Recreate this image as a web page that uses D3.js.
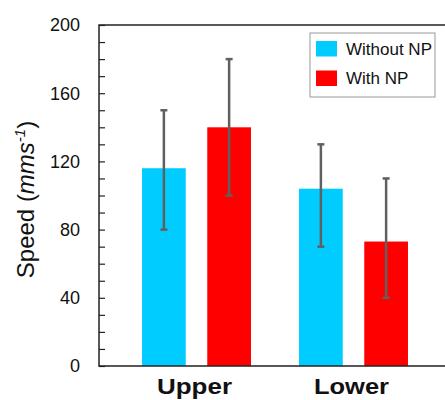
<!DOCTYPE html>
<html>
<head>
<meta charset="utf-8">
<script src="https://cdn.jsdelivr.net/npm/d3@7"></script>
<style>
  body { margin: 0; background: #fff; }
  text { font-family: "Liberation Sans", Arial, sans-serif; }
</style>
</head>
<body>
<div id="chart"></div>
<script>
// data
var categories = ["Upper", "Lower"];
var series = ["Without NP", "With NP"];
var meanWithout = [116, 104];
var meanWith = [140, 73];
var lowWithout = [80, 70];
var highWithout = [150, 130];
var lowWith = [100, 40];
var highWith = [180, 110];
var yTicks = [0, 40, 80, 120, 160, 200];

var colors = ["#00ccff", "#ff0000"];

var rows = [];
categories.forEach(function(c, i){
    rows.push({cat: c, s: series[0], v: meanWithout[i], lo: lowWithout[i], hi: highWithout[i]});
    rows.push({cat: c, s: series[1], v: meanWith[i], lo: lowWith[i], hi: highWith[i]});
});

var width = 445, height = 400;
var margin = {top: 25, right: 0, bottom: 34, left: 99};

var svg = d3.select("#chart").append("svg")
    .attr("width", width)
    .attr("height", height);

var y = d3.scaleLinear().domain([0, 200]).range([height - margin.bottom, margin.top]);

var x0 = d3.scaleBand().domain(categories)
    .range([margin.left, 451])
    .paddingInner(0.306)
    .paddingOuter(0.274);

var x1 = d3.scaleBand().domain(series)
    .range([0, x0.bandwidth()])
    .paddingInner(0.33);

var color = d3.scaleOrdinal().domain(series).range(colors);

// bars
svg.selectAll(".bar")
    .data(rows)
    .enter().append("rect")
    .attr("class", "bar")
    .attr("x", (d) => x0(d.cat) + x1(d.s))
    .attr("y", (d) => y(d.v))
    .attr("width", x1.bandwidth())
    .attr("height", (d) => y(0) - y(d.v))
    .attr("fill", (d) => color(d.s));

// error bars
var err = svg.selectAll(".err")
    .data(rows)
    .enter().append("g")
    .attr("class", "err")
    .attr("stroke", "#606060")
    .attr("stroke-width", 2.5);

err.append("line")
    .attr("x1", (d) => x0(d.cat) + x1(d.s) + x1.bandwidth() / 2)
    .attr("x2", (d) => x0(d.cat) + x1(d.s) + x1.bandwidth() / 2)
    .attr("y1", (d) => y(d.lo))
    .attr("y2", (d) => y(d.hi));

["lo", "hi"].forEach(function(k){
    err.append("line")
        .attr("x1", (d) => x0(d.cat) + x1(d.s) + x1.bandwidth() / 2 - 3.5)
        .attr("x2", (d) => x0(d.cat) + x1(d.s) + x1.bandwidth() / 2 + 3.5)
        .attr("y1", (d) => y(d[k]))
        .attr("y2", (d) => y(d[k]));
});

// y axis, ticks point inward
var yAxis = svg.append("g")
    .attr("transform", "translate(" + margin.left + ",0)")
    .call(d3.axisRight(y).tickValues(d3.range(0, 201, 10)).tickSize(6).tickFormat(""));
yAxis.select(".domain").remove();
yAxis.selectAll(".tick line").attr("stroke", "#222").attr("stroke-width", 1.2);

svg.selectAll(".ylab")
    .data(yTicks)
    .enter().append("text")
    .attr("class", "ylab")
    .attr("x", 80)
    .attr("y", (d) => y(d))
    .attr("dy", "0.35em")
    .attr("text-anchor", "end")
    .attr("font-size", 18)
    .attr("fill", "#111")
    .text((d) => d);

// frame: left, top, bottom
svg.append("path")
    .attr("d", "M" + width + "," + y(200) + "H" + margin.left + "V" + y(0) + "H" + width)
    .attr("fill", "none")
    .attr("stroke", "#222")
    .attr("stroke-width", 1.5);

// x labels
svg.selectAll(".xlab")
    .data(categories)
    .enter().append("text")
    .attr("class", "xlab")
    .attr("x", (d) => x0(d) + x0.bandwidth() / 2 - 2)
    .attr("y", 394)
    .attr("text-anchor", "middle")
    .attr("font-size", 22)
    .attr("font-weight", "bold")
    .attr("textLength", 75)
    .attr("lengthAdjust", "spacingAndGlyphs")
    .attr("fill", "#111")
    .text((d) => d);

// y title
var ttl = svg.append("text")
    .attr("transform", "translate(34," + ((y(0) + y(200)) / 2 + 4) + ") rotate(-90)")
    .attr("text-anchor", "middle")
    .attr("font-size", 24)
    .attr("fill", "#111");
ttl.append("tspan").text("Speed (");
ttl.append("tspan").attr("font-style", "italic").text("mms");
ttl.append("tspan").attr("font-style", "italic").attr("font-size", 15).attr("dy", -9).text("-1");
ttl.append("tspan").attr("dy", 9).text(")");

// legend
var lg = svg.append("g").attr("transform", "translate(310,33)");
lg.append("rect")
    .attr("width", 125).attr("height", 64)
    .attr("fill", "#fff")
    .attr("stroke", "#999")
    .attr("stroke-width", 1);
series.forEach(function(s, i){
    lg.append("rect")
        .attr("x", 6).attr("y", 8 + i * 29.5)
        .attr("width", 21).attr("height", 15.5)
        .attr("fill", color(s));
    lg.append("text")
        .attr("x", 36).attr("y", 16 + i * 29.5)
        .attr("dy", "0.35em")
        .attr("font-size", 17)
        .attr("fill", "#111")
        .text(s);
});
</script>
</body>
</html>
